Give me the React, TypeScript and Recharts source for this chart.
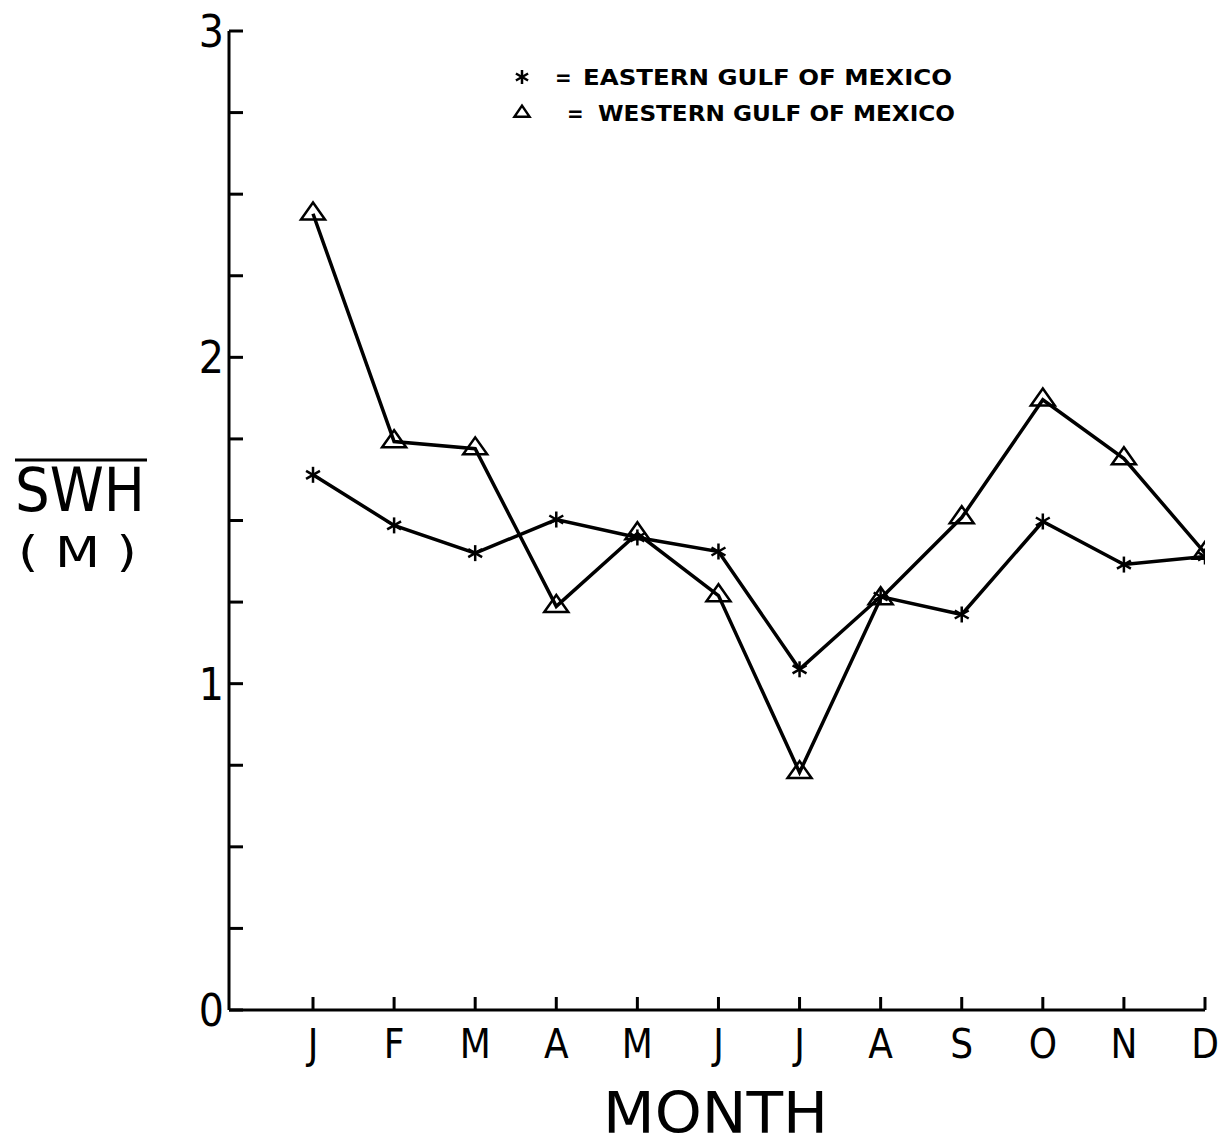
import { LineChart, Line, XAxis, YAxis, Legend } from 'recharts'

const months = ['J', 'F', 'M', 'A', 'M', 'J', 'J', 'A', 'S', 'O', 'N', 'D']
const eastern = [1.64, 1.485, 1.40, 1.503, 1.448, 1.405, 1.044, 1.267, 1.212, 1.497, 1.365, 1.39]
const western = [2.44, 1.742, 1.72, 1.237, 1.46, 1.27, 0.728, 1.261, 1.509, 1.87, 1.69, 1.40]
const yTicks = [0, 0.25, 0.5, 0.75, 1, 1.25, 1.5, 1.75, 2, 2.25, 2.5, 2.75, 3]
const xTicks = [0, 1, 2, 3, 4, 5, 6, 7, 8, 9, 10, 11]

const data = months.map((m, i) => ({ x: i, month: m, eastern: eastern[i], western: western[i] }))

const FONT = "'DejaVu Sans Condensed', 'DejaVu Sans', sans-serif"

const Asterisk = ({ cx, cy, r = 8 }: any) => {
  const dx = r * 0.87
  const dy = r * 0.5
  return (
    <g stroke="#000" strokeWidth={2.5}>
      <line x1={cx} y1={cy - r} x2={cx} y2={cy + r} />
      <line x1={cx - dx} y1={cy - dy} x2={cx + dx} y2={cy + dy} />
      <line x1={cx - dx} y1={cy + dy} x2={cx + dx} y2={cy - dy} />
    </g>
  )
}

const Triangle = ({ cx, cy, w = 24, h = 17 }: any) => (
  <polygon
    points={`${cx},${cy - (h * 2) / 3} ${cx - w / 2},${cy + h / 3} ${cx + w / 2},${cy + h / 3}`}
    fill="none"
    stroke="#000"
    strokeWidth={2.5}
  />
)

const YTick = ({ x, y, payload }: any) => {
  const major = Number.isInteger(payload.value)
  return (
    <g>
      <line x1={x} x2={x + 14} y1={y} y2={y} stroke="#000" strokeWidth={3} />
      {major && (
        <text x={x - 5} y={y + 16} textAnchor="end" fontSize={44} fontFamily={FONT} fill="#000">
          {payload.value}
        </text>
      )}
    </g>
  )
}

const XTick = ({ x, y, payload }: any) => (
  <g>
    <line x1={x} x2={x} y1={y} y2={y - 13} stroke="#000" strokeWidth={3} />
    <text x={x} y={y + 48} textAnchor="middle" fontSize={40} fontFamily={FONT} fill="#000">
      {months[payload.value]}
    </text>
  </g>
)

const LegendBox = () => (
  <svg width={470} height={80}>
    <Asterisk cx={17} cy={22} r={7} />
    <text x={50} y={30} fontSize={22} fontWeight="bold" fontFamily={FONT}>=</text>
    <text x={78} y={30} fontSize={22} fontWeight="bold" fontFamily={FONT} textLength={369} lengthAdjust="spacingAndGlyphs">
      EASTERN GULF OF MEXICO
    </text>
    <Triangle cx={17} cy={58} w={15} h={11} />
    <text x={62} y={66} fontSize={22} fontWeight="bold" fontFamily={FONT}>=</text>
    <text x={93} y={66} fontSize={22} fontWeight="bold" fontFamily={FONT} textLength={357} lengthAdjust="spacingAndGlyphs">
      WESTERN GULF OF MEXICO
    </text>
  </svg>
)

const AxisTitles = () => (
  <g fill="#000" fontFamily={FONT}>
    <line x1={15} x2={147} y1={460} y2={460} stroke="#000" strokeWidth={3} />
    <text x={15} y={511} fontSize={60} textLength={130} lengthAdjust="spacingAndGlyphs">SWH</text>
    <text x={18} y={567} fontSize={42} textLength={119} lengthAdjust="spacingAndGlyphs">( M )</text>
    <text x={603} y={1133} fontSize={57} textLength={225} lengthAdjust="spacingAndGlyphs">MONTH</text>
  </g>
)

export default function App() {
  return (
    <div style={{ position: 'absolute', top: 0, left: 0, width: 1225, height: 1147, background: '#fff' }}>
      <LineChart width={1225} height={1147} data={data} margin={{ top: 31, right: 20, bottom: 0, left: 0 }}>
        <XAxis
          dataKey="x"
          type="number"
          domain={[-1.036, 11]}
          allowDataOverflow
          ticks={xTicks}
          height={137}
          tickSize={0}
          tickMargin={0}
          tickLine={false}
          axisLine={{ stroke: '#000', strokeWidth: 3 }}
          tick={<XTick />}
          label={{ content: () => <AxisTitles /> }}
        />
        <YAxis
          type="number"
          domain={[0, 3]}
          ticks={yTicks}
          width={229}
          tickSize={0}
          tickMargin={0}
          tickLine={false}
          interval={0}
          axisLine={{ stroke: '#000', strokeWidth: 3 }}
          tick={<YTick />}
        />
        <Legend
          layout="horizontal"
          verticalAlign="middle"
          align="center"
          content={() => <LegendBox />}
          wrapperStyle={{ position: 'absolute', left: 505, top: 55, width: 470 }}
        />
        <Line
          dataKey="eastern"
          type="linear"
          stroke="#000"
          strokeWidth={3.5}
          isAnimationActive={false}
          dot={(p: any) => <Asterisk key={`e${p.index}`} cx={p.cx} cy={p.cy} />}
        />
        <Line
          dataKey="western"
          type="linear"
          stroke="#000"
          strokeWidth={3.5}
          isAnimationActive={false}
          dot={(p: any) => <Triangle key={`w${p.index}`} cx={p.cx} cy={p.cy} />}
        />
      </LineChart>
    </div>
  )
}
